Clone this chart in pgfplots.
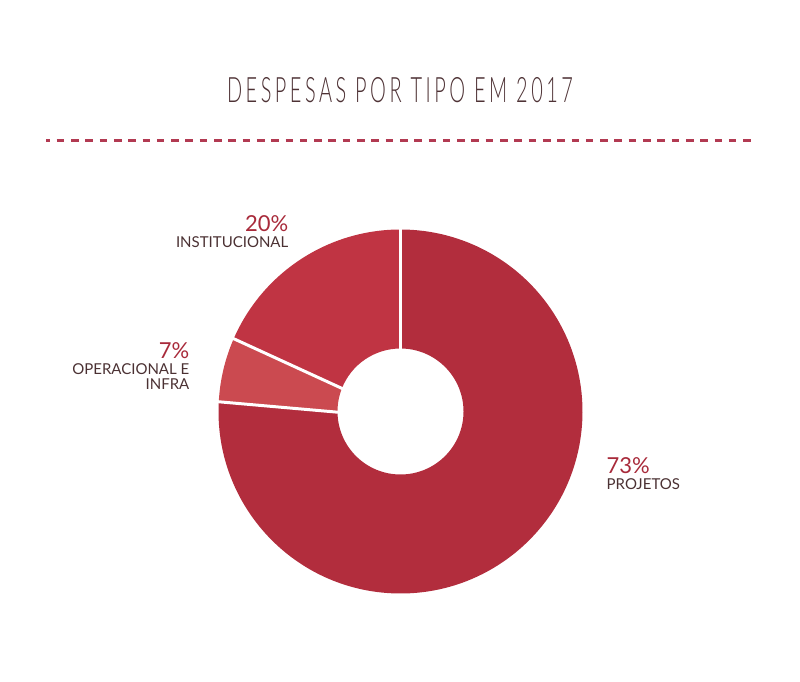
\documentclass[border=0pt]{standalone}
\usepackage{fontspec}
\setmainfont{Lato}
\newfontfamily\titlefont[FakeStretch=0.57,LetterSpace=10]{Lato Light}
\usepackage{pgfplots}
\pgfplotsset{compat=1.18}
\usepackage{pgfplotstable}
\definecolor{cProj}{HTML}{B22D3D}
\definecolor{cInst}{HTML}{C03443}
\definecolor{cOper}{HTML}{CB4A50}
\definecolor{cPct}{HTML}{A82A3A}
\definecolor{cLab}{HTML}{4B3133}
\definecolor{cTitle}{HTML}{4E3235}
\definecolor{cDash}{HTML}{B23A52}
% shares of the ring as drawn (counter-clockwise from the top)
\pgfplotstableread{
label value
Institucional 18.74
Operacional 5.93
Projetos 75.33
}\donutdata
\begin{document}
\begin{tikzpicture}
\pgfplotstablegetelem{0}{value}\of\donutdata \pgfmathsetmacro{\vA}{\pgfplotsretval}
\pgfplotstablegetelem{1}{value}\of\donutdata \pgfmathsetmacro{\vB}{\pgfplotsretval}
\pgfplotstablegetelem{2}{value}\of\donutdata \pgfmathsetmacro{\vC}{\pgfplotsretval}
\pgfmathsetmacro{\aO}{90}
\pgfmathsetmacro{\aA}{90+3.6*\vA}
\pgfmathsetmacro{\aB}{\aA+3.6*\vB}
\pgfmathsetmacro{\aC}{\aB+3.6*\vC}
% slight tilt of the separators (outer / inner ends)
\pgfmathsetmacro{\aAo}{\aA-1.05}
\pgfmathsetmacro{\aAi}{\aA+1.05}
\pgfmathsetmacro{\aBo}{\aB-1.9}
\pgfmathsetmacro{\aBi}{\aB+1.9}
\def\Ro{182pt}
\def\Ri{63pt}
\begin{axis}[scale only axis, width=800pt, height=681pt,
  xmin=0, xmax=800, ymin=0, ymax=681, axis lines=none,
  xtick=\empty, ytick=\empty, clip=false]
% dashed rule
\addplot[draw=cDash, line width=2.6pt, dash pattern=on 7.6pt off 6.7pt, dash phase=3.6pt, forget plot]
  coordinates {(46,540.5) (755,540.5)};
% donut sectors
\fill[cInst] ([shift={(\aO:\Ro)}]axis cs:400.5,269.5) arc[start angle=\aO, end angle=\aAo, radius=\Ro]
  -- ([shift={(\aAi:\Ri)}]axis cs:400.5,269.5) arc[start angle=\aAi, end angle=\aO, radius=\Ri] -- cycle;
\fill[cOper] ([shift={(\aAo:\Ro)}]axis cs:400.5,269.5) arc[start angle=\aAo, end angle=\aBo, radius=\Ro]
  -- ([shift={(\aBi:\Ri)}]axis cs:400.5,269.5) arc[start angle=\aBi, end angle=\aAi, radius=\Ri] -- cycle;
\fill[cProj] ([shift={(\aBo:\Ro)}]axis cs:400.5,269.5) arc[start angle=\aBo, end angle=\aC, radius=\Ro]
  -- ([shift={(\aC:\Ri)}]axis cs:400.5,269.5) arc[start angle=\aC, end angle=\aBi, radius=\Ri] -- cycle;
% separators
\draw[white, line width=3pt] ([shift={(\aO:62pt)}]axis cs:400.5,269.5) -- ([shift={(\aO:184pt)}]axis cs:400.5,269.5);
\draw[white, line width=3pt] ([shift={(\aAi:62pt)}]axis cs:400.5,269.5) -- ([shift={(\aAo:184pt)}]axis cs:400.5,269.5);
\draw[white, line width=3pt] ([shift={(\aBi:62pt)}]axis cs:400.5,269.5) -- ([shift={(\aBo:184pt)}]axis cs:400.5,269.5);
% title
\node[anchor=base, inner sep=0pt, text=cTitle, font=\titlefont\fontsize{35}{35}\selectfont]
  at (axis cs:400,578) {DESPESAS POR TIPO EM 2017};
% labels
\node[anchor=base east, inner sep=0pt, text=cPct, font=\fontsize{22}{22}\selectfont] at (axis cs:288.5,449) {20\%};
\node[anchor=base east, inner sep=0pt, text=cLab, font=\fontsize{15}{15}\selectfont] at (axis cs:288.5,433) {INSTITUCIONAL};
\node[anchor=base east, inner sep=0pt, text=cPct, font=\fontsize{22}{22}\selectfont] at (axis cs:189.5,322.7) {7\%};
\node[anchor=base east, inner sep=0pt, text=cLab, font=\fontsize{15}{15}\selectfont] at (axis cs:189.5,306) {OPERACIONAL E};
\node[anchor=base east, inner sep=0pt, text=cLab, font=\fontsize{15}{15}\selectfont] at (axis cs:189.5,291) {INFRA};
\node[anchor=base west, inner sep=0pt, text=cPct, font=\fontsize{22}{22}\selectfont] at (axis cs:606.5,207.7) {73\%};
\node[anchor=base west, inner sep=0pt, text=cLab, font=\fontsize{15}{15}\selectfont] at (axis cs:606.5,191.7) {PROJETOS};
\end{axis}
\pgfresetboundingbox
\path (0,0) rectangle (800pt,681pt);
\end{tikzpicture}
\end{document}
